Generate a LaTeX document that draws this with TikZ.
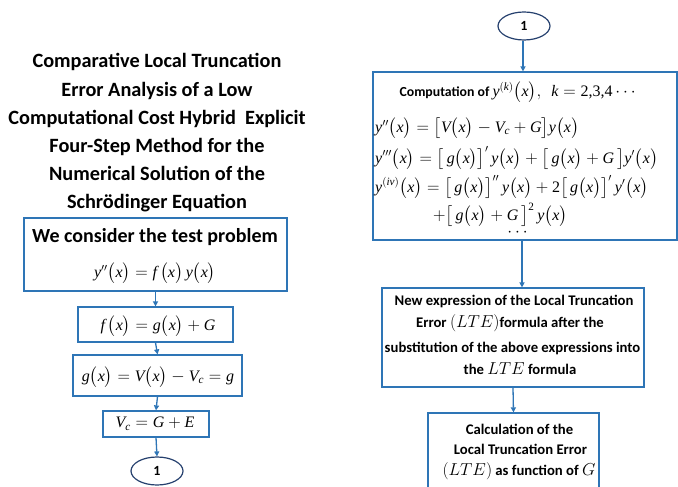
\documentclass[tikz,border=0pt]{standalone}
\usepackage{fontspec}
\usepackage{amsmath}
\setmainfont{Carlito}
\newfontfamily\tms{Liberation Serif}
\usetikzlibrary{arrows.meta,shapes.geometric}
\definecolor{boxblue}{RGB}{46,117,182}
\definecolor{ellblue}{RGB}{37,64,110}
\newcommand{\iv}[1]{\text{\tms\itshape #1}}
\newcommand{\up}[1]{\text{\tms #1}}
\newcommand{\fs}{\fontsize{16}{19}\selectfont}
\newcommand{\lm}[1]{{\fontsize{18}{18}\selectfont$#1$}}
\begin{document}
\begin{tikzpicture}[x=1pt,y=-1pt,
  box/.style={draw=boxblue,line width=1.2pt,inner sep=0pt,rectangle},
  ell/.style={draw=ellblue,line width=1.2pt,ellipse,inner sep=0pt,minimum width=52pt,minimum height=28pt,font=\bfseries\fontsize{14}{15}\selectfont},
  arr/.style={draw=boxblue,line width=1.3pt,-{Triangle[length=5pt,width=5pt]}},
  txt/.style={inner sep=0pt},
  bt/.style={txt,font=\bfseries\fontsize{14.7}{15}\selectfont}]
\clip (0,0) rectangle (678,487);
\fill[white] (0,0) rectangle (678,487);
% title
\node[txt,align=center,font=\bfseries\fontsize{20.3}{28.2}\selectfont] (title) at (157,133)
 {Comparative Local Truncation\\Error Analysis of a Low\\Computational Cost Hybrid\ \ Explicit\\Four-Step Method for the\\Numerical Solution of the\\Schrödinger Equation};
% left column
\node[box,minimum width=263pt,minimum height=73pt] (b1) at (155.5,254.5) {};
\node[txt,font=\bfseries\fontsize{20}{22}\selectfont] (b1t) at (155,237) {We consider the test problem};
\node[txt,font=\fs] (b1f) at (155,273) {$\iv{y}''\bigl(\iv{x}\bigr)=\iv{f}\,\bigl(\iv{x}\bigr)\,\iv{y}\bigl(\iv{x}\bigr)$};
\node[box,minimum width=155pt,minimum height=35pt] (b2) at (155.5,324.5) {};
\node[txt,font=\fs] (b2f) at (158,326) {$\iv{f}\,\bigl(\iv{x}\bigr)=\iv{g}\bigl(\iv{x}\bigr)+\iv{G}$};
\node[box,minimum width=169pt,minimum height=41pt] (b3) at (157.5,375.5) {};
\node[txt,font=\fs] (b3f) at (158,377) {$\iv{g}\bigl(\iv{x}\bigr)=\iv{V}\bigl(\iv{x}\bigr)-\iv{V}_{\iv{c}}=\iv{g}$};
\node[box,minimum width=106pt,minimum height=26pt] (b4) at (156,424) {};
\node[txt,font=\fs] (b4f) at (155,424) {$\iv{V}_{\iv{c}}=\iv{G}+\iv{E}$};
\node[ell] (e1) at (157,471) {1};
\draw[arr] (b1.south) -- (b2.north);
\draw[arr] (b2.south) -- (b3.north);
\draw[arr] (b3.south) -- (b4.north);
\draw[arr] (b4.south) -- (e1.north);
% right column
\node[ell] (e2) at (524,26) {1};
\node[box,minimum width=304pt,minimum height=168pt] (r1) at (525,156) {};
\node[txt] (r1t) at (519,92) {{\bfseries\fontsize{13.8}{15}\selectfont Computation of }\fs$\iv{y}^{(\iv{k})}\bigl(\iv{x}\bigr),\ \ \iv{k}=\up{2,3,4}\cdots$};
\node[txt,anchor=west,font=\fs] (r1a) at (375,128) {$\iv{y}''\bigl(\iv{x}\bigr)=\bigl[\iv{V}\bigl(\iv{x}\bigr)-\iv{V}_{\iv{c}}+\iv{G}\bigr]\iv{y}\bigl(\iv{x}\bigr)$};
\node[txt,anchor=west,font=\fs] (r1b) at (375,158) {$\iv{y}'''\bigl(\iv{x}\bigr)=\bigl[\,\iv{g}\bigl(\iv{x}\bigr)\bigr]'\,\iv{y}\bigl(\iv{x}\bigr)+\bigl[\,\iv{g}\bigl(\iv{x}\bigr)+\iv{G}\,\bigr]\iv{y}'\bigl(\iv{x}\bigr)$};
\node[txt,anchor=west,font=\fs] (r1c) at (375,187) {$\iv{y}^{(\iv{iv})}\bigl(\iv{x}\bigr)=\bigl[\,\iv{g}\bigl(\iv{x}\bigr)\bigr]''\,\iv{y}\bigl(\iv{x}\bigr)+\up{2}\bigl[\,\iv{g}\bigl(\iv{x}\bigr)\bigr]'\,\iv{y}'\bigl(\iv{x}\bigr)$};
\node[txt,anchor=west,font=\fs] (r1d) at (433,215) {$+\bigl[\,\iv{g}\bigl(\iv{x}\bigr)+\iv{G}\,\bigr]^{\up{2}}\,\iv{y}\bigl(\iv{x}\bigr)$};
\node[txt,font=\fs] (r1e) at (519,233) {$\cdots$};
\node[box,minimum width=262pt,minimum height=99pt] (r2) at (513,337.5) {};
\node[bt] (r2a) at (514,301) {New expression of the Local Truncation};
\node[bt] (r2b) at (510,323) {Error \lm{(LTE)}formula after the};
\node[bt] (r2c) at (512.5,348) {substitution of the above expressions into};
\node[bt] (r2d) at (520,369) {the \lm{LTE} formula};
\node[box,minimum width=171pt,minimum height=90pt] (r3) at (513.5,458) {};
\node[bt] (r3a) at (519.5,429) {Calculation of the};
\node[bt] (r3b) at (520.5,449) {Local Truncation Error};
\node[bt] (r3c) at (519,471) {\lm{(LTE)} as function of \lm{G}};
\draw[arr] ([xshift=-1pt]e2.south) -- ([xshift=-1pt]e2.south |- r1.north);
\draw[arr] ([xshift=-3pt]r1.south) -- ([xshift=-3pt]r1.south |- r2.north);
\draw[arr] (r2.south) -- (r3.north);
\end{tikzpicture}
\end{document}
